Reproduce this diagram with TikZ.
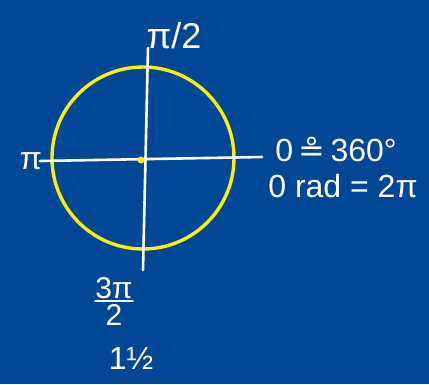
\documentclass[tikz,border=0pt]{standalone}
\usepackage{fontspec}
\setmainfont{Liberation Sans}
\newfontfamily\symfont{DejaVu Sans}
\usepackage{tikz}
\usetikzlibrary{positioning, calc}
\definecolor{boardblue}{RGB}{2,70,150}
\definecolor{chalk}{RGB}{255,255,255}
\definecolor{unityellow}{RGB}{250,240,10}
\tikzset{
  axis/.style={line width=2.6pt, color=chalk, line cap=round},
  unitcircle/.style={line width=3.4pt, draw=unityellow},
  lbl/.style={text=chalk, inner sep=0pt, font=\fontsize{32}{36}\selectfont}
}
\begin{document}
\begin{tikzpicture}[x=1pt, y=-1pt]
  \fill[boardblue] (0,0) rectangle (429,384);
  \useasboundingbox (0,0) rectangle (429,384);

  % axes end points
  \coordinate (west) at (40,161);
  \coordinate (east) at (262,157);
  \coordinate (north) at (148,48);
  \coordinate (south) at (143,270);
  \coordinate (origin) at (141,160);

  \draw[unitcircle] (143,158) circle[radius=91];
  \draw[axis] (west) -- (east);
  \draw[axis] (north) -- (south);
  \fill[unityellow] (origin) circle[radius=3.5];

  \node[lbl, font=\fontsize{36}{40}\selectfont] (halfpi) at (174,36) {π/2};
  \node[lbl] (pi) at (31,161) {π};
  \node[lbl] (deg) at (336,149) {0\,{\symfont ≗}\,360°};
  \node[lbl] (rad) at (343,186) {0 rad = 2π};
  % 3pi over 2
  \node[lbl, font=\fontsize{30}{34}\selectfont] (num) at (114,288) {3π};
  \node[lbl, font=\fontsize{30}{34}\selectfont, below=6pt of num] (den) {2};
  \draw[axis, line width=2pt] ([yshift=-2pt]num.south west) -- ([yshift=-2pt]num.south east);
  \node[lbl] (onehalf) at (131,358) {1½};
\end{tikzpicture}
\end{document}
